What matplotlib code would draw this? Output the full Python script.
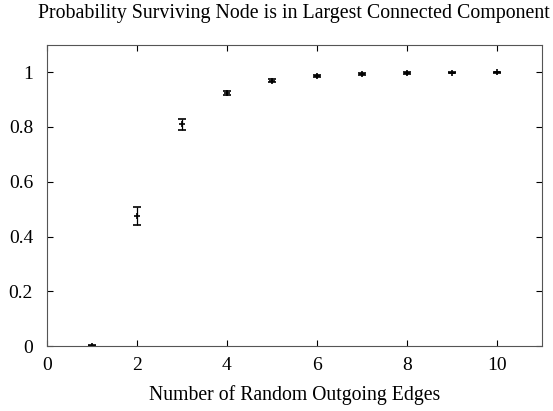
import matplotlib.pyplot as plt

plt.rcParams['font.family'] = ['Liberation Serif', 'DejaVu Serif']

edges = [1, 2, 3, 4, 5, 6, 7, 8, 9, 10]
prob = [0.002, 0.475, 0.810, 0.923, 0.969, 0.987, 0.994, 0.997, 0.998, 0.999]
err = [0.002, 0.032, 0.020, 0.008, 0.005, 0.004, 0.003, 0.002, 0.002, 0.001]

fig = plt.figure(figsize=(5.53, 4.11), dpi=100)
ax = fig.add_axes([0.085, 0.158, 0.895, 0.733])
ax.errorbar(edges, prob, yerr=err, fmt='+', color='black', ms=5, mew=1.2,
            elinewidth=0.9, capsize=3, capthick=0.9)
ax.set_xlim(0, 11)
ax.set_ylim(0, 1.1)
ax.set_xticks([0, 2, 4, 6, 8, 10])
ax.set_yticks([0, 0.2, 0.4, 0.6, 0.8, 1])
ax.set_yticklabels(['0', '0.2', '0.4', '0.6', '0.8', '1'])
ax.tick_params(direction='in', top=True, right=True, labelsize=14, length=4)
ax.tick_params(axis='y', pad=10)
ax.tick_params(axis='x', pad=8)
for s in ax.spines.values():
    s.set_color('#555555')
ax.set_xlabel('Number of Random Outgoing Edges', fontsize=14.2, labelpad=8)
fig.suptitle('Probability Surviving Node is in Largest Connected Component',
             fontsize=14.3, x=0.532, y=0.99)
fig.savefig('out.png')
